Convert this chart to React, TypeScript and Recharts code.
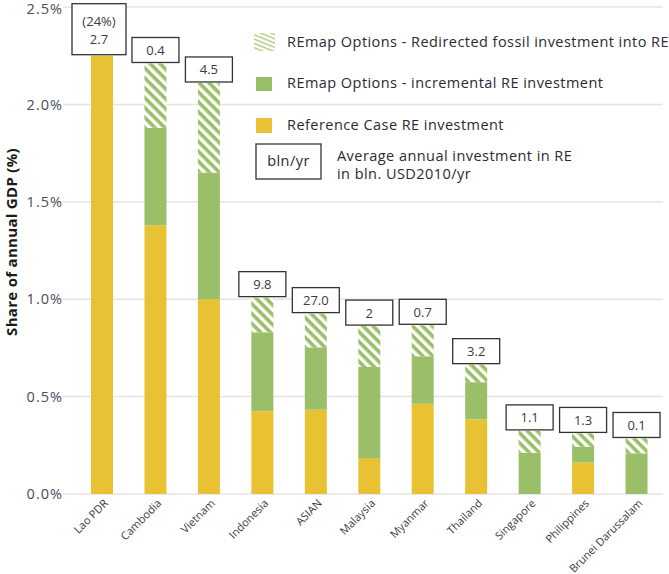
import React from 'react';
import { BarChart, Bar, XAxis, YAxis, CartesianGrid, Legend, LabelList, Label } from 'recharts';

const categories = ['Lao PDR', 'Cambodia', 'Vietnam', 'Indonesia', 'ASIAN', 'Malaysia', 'Myanmar', 'Thailand', 'Singapore', 'Philippines', 'Brunei Darussalam'];
const referenceCase = [2.25, 1.38, 1.0, 0.425, 0.432, 0.184, 0.463, 0.384, 0, 0.162, 0];
const incremental = [0, 0.5, 0.65, 0.405, 0.321, 0.468, 0.244, 0.19, 0.212, 0.08, 0.209];
const redirected = [0, 0.33, 0.46, 0.178, 0.173, 0.21, 0.159, 0.09, 0.112, 0.069, 0.076];
const investment = ['2.7', '0.4', '4.5', '9.8', '27.0', '2', '0.7', '3.2', '1.1', '1.3', '0.1'];
const shareNote = ['(24%)', '', '', '', '', '', '', '', '', '', ''];
const yTicks = [0, 0.5, 1.0, 1.5, 2.0, 2.5];

const YELLOW = '#E8C232';
const GREEN = '#9BBF69';
const FONT = '"Open Sans", sans-serif';
const TEXT = '#3a3a48';

const data = categories.map((c, i) => ({
  name: c,
  reference: referenceCase[i],
  incremental: incremental[i],
  redirected: redirected[i],
}));

const XTick = (props: any) => {
  const { x, y, payload } = props;
  return (
    <text
      transform={`translate(${x + 7},${y + 10}) rotate(-45)`}
      textAnchor="end"
      fontFamily={FONT}
      fontSize={11}
      fill={TEXT}
    >
      {payload.value}
    </text>
  );
};

const makeBoxLabel = (onlyTopless: boolean) => (props: any) => {
  const { x, y, width, value } = props;
  const index = categories.indexOf(value);
  if (index < 0) return null;
  const topless = incremental[index] + redirected[index] === 0;
  if (onlyTopless !== topless) return null;
  const cx = Number(x) + Number(width) / 2;
  const top = Number(y);
  const note = shareNote[index];
  const w = note ? 54 : 47;
  const h = note ? 51 : 25;
  const bx = cx - w / 2 - (note ? 3 : 0);
  const by = top - 1 - h;
  return (
    <g>
      <rect x={bx} y={by} width={w} height={h} fill="#fff" stroke="#333" strokeWidth={1.3} />
      {note ? (
        <>
          <text x={bx + w / 2} y={by + 22} textAnchor="middle" fontFamily={FONT} fontSize={13} fill={TEXT}>{note}</text>
          <text x={bx + w / 2} y={by + 40} textAnchor="middle" fontFamily={FONT} fontSize={13} fill={TEXT}>{investment[index]}</text>
        </>
      ) : (
        <text x={bx + w / 2} y={by + h / 2 + 5} textAnchor="middle" fontFamily={FONT} fontSize={13} fill={TEXT}>{investment[index]}</text>
      )}
    </g>
  );
};

const TopBoxLabel = makeBoxLabel(false);
const RefBoxLabel = makeBoxLabel(true);

const LT = { fontFamily: FONT, fontSize: 14.5, fill: '#2a2a35', letterSpacing: 0.45 } as const;

const LegendContent = () => (
  <svg width={420} height={160} style={{ overflow: 'visible', display: 'block' }}>
    <defs>
      <pattern id="hatchLegend" patternUnits="userSpaceOnUse" width="4" height="4" patternTransform="rotate(22)">
        <rect width="4" height="4" fill="#fff" />
        <rect width="4" height="1.4" fill="#A9CD7B" />
      </pattern>
    </defs>
    <rect x={4} y={5} width={21} height={18} fill="url(#hatchLegend)" />
    <text x={37} y={19} {...LT}>REmap Options - Redirected fossil investment into RE</text>
    <rect x={6} y={49} width={16} height={14} fill={GREEN} />
    <text x={37} y={60} {...LT}>REmap Options - incremental RE investment</text>
    <rect x={6} y={90} width={16} height={15} fill={YELLOW} />
    <text x={37} y={102} {...LT}>Reference Case RE investment</text>
    <rect x={6} y={116} width={65} height={35} fill="#fff" stroke="#333" strokeWidth={1.3} />
    <text x={38.5} y={138} textAnchor="middle" {...LT}>bln/yr</text>
    <text x={87} y={133} {...LT}>Average annual investment in RE</text>
    <text x={87} y={151} {...LT}>in bln. USD2010/yr</text>
  </svg>
);

const YTitle = () => (
  <text
    transform="translate(17,242) rotate(-90)"
    textAnchor="middle"
    fontFamily={FONT}
    fontSize={15}
    fontWeight="bold"
    letterSpacing={0.3}
    fill="#1a1a1a"
  >
    Share of annual GDP (%)
  </text>
);

export default function App() {
  return (
    <div style={{ position: 'absolute', left: 0, top: 0, width: 669, height: 574, background: '#fff' }}>
      <BarChart
        width={669}
        height={574}
        data={data}
        margin={{ top: 7, right: 6, left: 0, bottom: 0 }}
        barSize={22}
      >
        <defs>
          <pattern id="hatchBar" patternUnits="userSpaceOnUse" width="7" height="7" patternTransform="rotate(45)">
            <rect width="7" height="7" fill="#fff" />
            <rect width="7" height="3.6" fill={GREEN} />
          </pattern>
        </defs>
        <CartesianGrid vertical={false} stroke="#e4e4e4" strokeWidth={1.5} />
        <XAxis
          dataKey="name"
          interval={0}
          height={80}
          tickLine={false}
          axisLine={false}
          tickSize={0}
          tickMargin={0}
          padding={{ left: 12, right: 0 }}
          tick={<XTick />}
        />
        <YAxis
          width={63}
          domain={[0, 2.5]}
          ticks={yTicks}
          tickLine={false}
          axisLine={false}
          tickSize={0}
          tickMargin={0}
          tickFormatter={(v: number) => `${v.toFixed(1)}%`}
          tick={{ fontFamily: FONT, fontSize: 14.5, fill: '#4a4a5c', letterSpacing: 1 }}
        >
          <Label content={<YTitle />} />
        </YAxis>
        <Legend
          layout="vertical"
          align="center"
          verticalAlign="middle"
          wrapperStyle={{ left: 250, top: 28, width: 420, height: 160 }}
          content={<LegendContent />}
        />
        <Bar dataKey="reference" stackId="a" fill={YELLOW} isAnimationActive={false}>
          <LabelList dataKey="name" content={<RefBoxLabel />} />
        </Bar>
        <Bar dataKey="incremental" stackId="a" fill={GREEN} isAnimationActive={false} />
        <Bar dataKey="redirected" stackId="a" fill="url(#hatchBar)" isAnimationActive={false}>
          <LabelList dataKey="name" content={<TopBoxLabel />} />
        </Bar>
      </BarChart>
    </div>
  );
}
